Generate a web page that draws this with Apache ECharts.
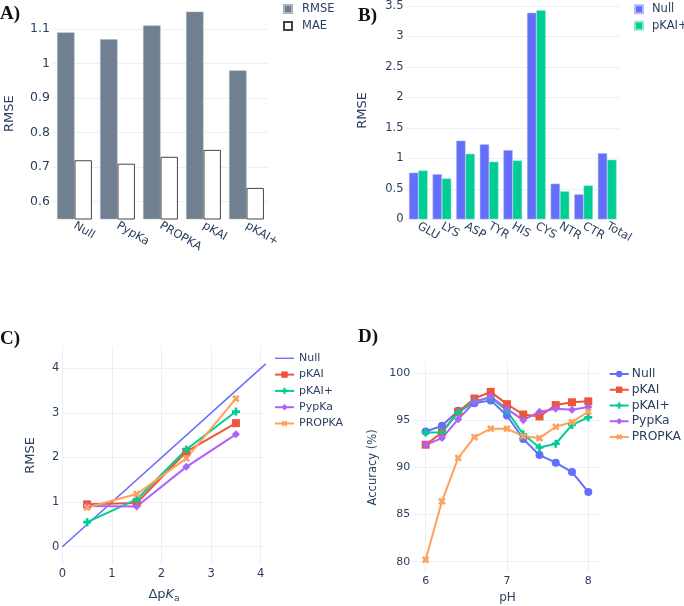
<!DOCTYPE html>
<html>
<head>
<meta charset="utf-8">
<script src="https://cdn.jsdelivr.net/npm/echarts@6/dist/echarts.min.js"></script>
<style>
html,body{margin:0;padding:0;background:#fff;}
#chart{width:684px;height:606px;}
</style>
</head>
<body>
<div id="chart"></div>
<script>
// ---------- Panel A ----------
const methodsA = ['Null', 'PypKa', 'PROPKA', 'pKAI', 'pKAI+'];
const rmseA = [1.09, 1.07, 1.11, 1.15, 0.98];
const maeA = [0.72, 0.71, 0.73, 0.75, 0.64];
const ticksA = [0.6, 0.7, 0.8, 0.9, 1, 1.1];

// ---------- Panel B ----------
const residuesB = ['GLU', 'LYS', 'ASP', 'TYR', 'HIS', 'CYS', 'NTR', 'CTR', 'Total'];
const nullB = [0.765, 0.74, 1.29, 1.23, 1.135, 3.39, 0.585, 0.41, 1.085];
const pkaiPlusB = [0.80, 0.67, 1.075, 0.945, 0.965, 3.43, 0.46, 0.555, 0.977];
const ticksB = [0, 0.5, 1, 1.5, 2, 2.5, 3, 3.5];

// ---------- Panel C ----------
const dpkaC = [0.5, 1.5, 2.5, 3.5];
const nullLineC = [[0, 0], [4.1, 4.1]];
const pkaiC = [0.95, 0.98, 2.13, 2.77];
const pkaiPlusC = [0.55, 1.06, 2.18, 3.03];
const pypkaC = [0.91, 0.90, 1.79, 2.52];
const propkaC = [0.88, 1.18, 1.98, 3.32];
const xTicksC = [0, 1, 2, 3, 4];
const yTicksC = [0, 1, 2, 3, 4];

// ---------- Panel D ----------
const phD = [6, 6.2, 6.4, 6.6, 6.8, 7, 7.2, 7.4, 7.6, 7.8, 8];
const nullD = [93.8, 94.4, 96.0, 96.8, 97.1, 95.5, 93.0, 91.3, 90.5, 89.5, 87.4];
const pkaiD = [92.4, 93.7, 95.9, 97.3, 98.0, 96.7, 95.6, 95.4, 96.6, 96.9, 97.0];
const pkaiPlusD = [93.7, 93.7, 95.8, 97.0, 97.4, 96.0, 93.5, 92.1, 92.5, 94.5, 95.3];
const pypkaD = [92.4, 93.1, 95.1, 96.9, 97.5, 96.2, 95.0, 95.9, 96.2, 96.1, 96.4];
const propkaD = [80.2, 86.4, 91.0, 93.2, 94.1, 94.1, 93.3, 93.1, 94.3, 94.8, 95.9];
const xTicksD = [6, 7, 8];
const yTicksD = [80, 85, 90, 95, 100];

const FONT = "'DejaVu Sans', verdana, arial, sans-serif";
const TXT = '#2a3f5f';
const GRID = '#EBF0F8';
const BLUE = '#636efa', RED = '#EF553B', GREEN = '#00cc96', PURPLE = '#ab63fa', ORANGE = '#FFA15A';
const CROSS = 'path://M-1,-3L1,-3L1,-1L3,-1L3,1L1,1L1,3L-1,3L-1,1L-3,1L-3,-1L-1,-1Z';
const LINE_ICON = 'path://M0,0L0,0M0,3.3L20,3.3L20,4.7L0,4.7ZM20,8L20,8';

function zip(xs, ys) { return xs.map((x, i) => [x, ys[i]]); }

function valueAxis(grid, min, max, ticks, fs, extra) {
  return Object.assign({
    type: 'value', gridIndex: grid, min: min, max: max,
    axisLine: { show: false }, axisTick: { show: false, customValues: ticks },
    axisLabel: { customValues: ticks, color: TXT, fontFamily: FONT, fontSize: fs, margin: 3 },
    splitLine: { show: true, lineStyle: { color: GRID, width: 1 } }
  }, extra || {});
}
function catAxis(grid, data) {
  return {
    type: 'category', gridIndex: grid, data: data,
    axisLine: { show: false }, axisTick: { show: false },
    axisLabel: { color: TXT, fontFamily: FONT, fontSize: 11.5, rotate: -30, margin: 6, interval: 0 },
    splitLine: { show: false }
  };
}
function nameStyle(fs) { return { color: TXT, fontFamily: FONT, fontSize: fs }; }
const legendFmt = n => n.split(':')[1];
function legendText(fs, extra) {
  return Object.assign({ color: TXT, fontFamily: FONT, fontSize: fs, lineHeight: 14 }, extra || {});
}

function lineSeries(name, x, y, data, color, symbol, rotate) {
  return {
    name: name, type: 'line', xAxisIndex: x, yAxisIndex: y, data: data,
    symbol: symbol, symbolSize: 8, symbolRotate: rotate || 0,
    lineStyle: { color: color, width: 2 }, itemStyle: { color: color },
    z: 3
  };
}

const option = {
  animation: false,
  backgroundColor: '#fff',
  textStyle: { fontFamily: FONT },
  grid: [
    { left: 53, top: 8.2, width: 215, height: 210.8 },
    { left: 406.5, top: 0, width: 212.5, height: 219.3 },
    { left: 62.3, top: 346, width: 203.4, height: 219 },
    { left: 413.3, top: 361.7, width: 188.4, height: 211.3 }
  ],
  xAxis: [
    catAxis(0, methodsA),
    catAxis(1, residuesB),
    valueAxis(2, 0, 4.1, xTicksC, 11.5, {
      name: '{a|Δp}{b|K}{c|a}', nameLocation: 'middle', nameGap: 21,
      nameTextStyle: { color: TXT, fontFamily: FONT, fontSize: 13,
        rich: { a: { color: TXT, fontFamily: FONT, fontSize: 13 },
                b: { color: TXT, fontFamily: FONT, fontSize: 13, fontStyle: 'italic' },
                c: { color: TXT, fontFamily: FONT, fontSize: 9, padding: [8, 0, 0, 0] } } }
    }),
    valueAxis(3, 5.848, 8.165, xTicksD, 11, {
      name: 'pH', nameLocation: 'middle', nameGap: 19, nameTextStyle: nameStyle(12)
    })
  ],
  yAxis: [
    valueAxis(0, 0.55, 1.16, ticksA, 12.5, { name: 'RMSE', nameLocation: 'middle', nameGap: 37, nameTextStyle: nameStyle(13) }),
    valueAxis(1, 0, 3.572, ticksB, 11.5, { name: 'RMSE', nameLocation: 'middle', nameGap: 37, nameTextStyle: nameStyle(13) }),
    valueAxis(2, -0.41, 4.5, yTicksC, 11.5, { name: 'RMSE', nameLocation: 'middle', nameGap: 25, nameTextStyle: nameStyle(13) }),
    valueAxis(3, 78.8, 101.2, yTicksD, 11, { name: 'Accuracy (%)', nameLocation: 'middle', nameGap: 34, nameTextStyle: nameStyle(11.5) })
  ],
  legend: [
    { data: ['A:RMSE', 'A:MAE'], formatter: legendFmt, left: 283, top: 2, orient: 'vertical', padding: 0,
      itemWidth: 8, itemHeight: 8, itemGap: 3, icon: 'rect',
      textStyle: legendText(11.5, { padding: [0, 0, 0, 5] }) },
    { data: ['B:Null', 'B:pKAI+'], formatter: legendFmt, left: 634, top: 2.3, orient: 'vertical', padding: 0,
      itemWidth: 8, itemHeight: 8, itemGap: 2.4, icon: 'rect',
      textStyle: legendText(11.5, { padding: [0, 0, 0, 4] }) },
    { data: [{ name: 'C:Null', icon: LINE_ICON }, 'C:pKAI', 'C:pKAI+', 'C:PypKa', 'C:PROPKA'], formatter: legendFmt,
      left: 274, top: 351.3, orient: 'vertical', padding: 0, itemWidth: 19, itemHeight: 8, itemGap: 2.3,
      textStyle: legendText(11) },
    { data: ['D:Null', 'D:pKAI', 'D:pKAI+', 'D:PypKa', 'D:PROPKA'], formatter: legendFmt,
      left: 608.7, top: 367, orient: 'vertical', padding: 0, itemWidth: 19, itemHeight: 8, itemGap: 1.75,
      textStyle: legendText(12.3, { padding: [0, 0, 0, -2] }) }
  ],
  graphic: [
    { type: 'text', left: 0, top: 5, style: { text: 'A)', font: 'bold 19px "Liberation Serif", serif', fill: '#111' } },
    { type: 'text', left: 358, top: 7, style: { text: 'B)', font: 'bold 19px "Liberation Serif", serif', fill: '#111' } },
    { type: 'text', left: 0, top: 330, style: { text: 'C)', font: 'bold 19px "Liberation Serif", serif', fill: '#111' } },
    { type: 'text', left: 358, top: 328, style: { text: 'D)', font: 'bold 19px "Liberation Serif", serif', fill: '#111' } }
  ],
  series: [
    { name: 'A:RMSE', type: 'bar', xAxisIndex: 0, yAxisIndex: 0, data: rmseA, barGap: '0%', barCategoryGap: '19%',
      itemStyle: { color: '#708090', borderColor: '#a9b3bd', borderWidth: 0.5 } },
    { name: 'A:MAE', type: 'bar', xAxisIndex: 0, yAxisIndex: 0, data: maeA, barGap: '0%', barCategoryGap: '19%',
      itemStyle: { color: '#ffffff', borderColor: '#444', borderWidth: 1 } },
    { name: 'B:Null', type: 'bar', xAxisIndex: 1, yAxisIndex: 1, data: nullB, barGap: '0%', barCategoryGap: '21%',
      itemStyle: { color: BLUE, borderColor: '#b5baf8', borderWidth: 0.5 } },
    { name: 'B:pKAI+', type: 'bar', xAxisIndex: 1, yAxisIndex: 1, data: pkaiPlusB, barGap: '0%', barCategoryGap: '21%',
      itemStyle: { color: GREEN, borderColor: '#8fe6cc', borderWidth: 0.5 } },

    { name: 'C:Null', type: 'line', xAxisIndex: 2, yAxisIndex: 2, data: nullLineC, symbol: 'none',
      lineStyle: { color: BLUE, width: 1.5 }, itemStyle: { color: BLUE }, z: 2 },
    lineSeries('C:pKAI', 2, 2, zip(dpkaC, pkaiC), RED, 'rect'),
    lineSeries('C:pKAI+', 2, 2, zip(dpkaC, pkaiPlusC), GREEN, CROSS),
    lineSeries('C:PypKa', 2, 2, zip(dpkaC, pypkaC), PURPLE, 'diamond'),
    lineSeries('C:PROPKA', 2, 2, zip(dpkaC, propkaC), ORANGE, CROSS, 45),

    lineSeries('D:Null', 3, 3, zip(phD, nullD), BLUE, 'circle'),
    lineSeries('D:pKAI', 3, 3, zip(phD, pkaiD), RED, 'rect'),
    lineSeries('D:pKAI+', 3, 3, zip(phD, pkaiPlusD), GREEN, CROSS),
    lineSeries('D:PypKa', 3, 3, zip(phD, pypkaD), PURPLE, 'diamond'),
    lineSeries('D:PROPKA', 3, 3, zip(phD, propkaD), ORANGE, CROSS, 45)
  ]
};

const chart = echarts.init(document.getElementById('chart'), null, { renderer: 'canvas' });
chart.setOption(option);
</script>
</body>
</html>
